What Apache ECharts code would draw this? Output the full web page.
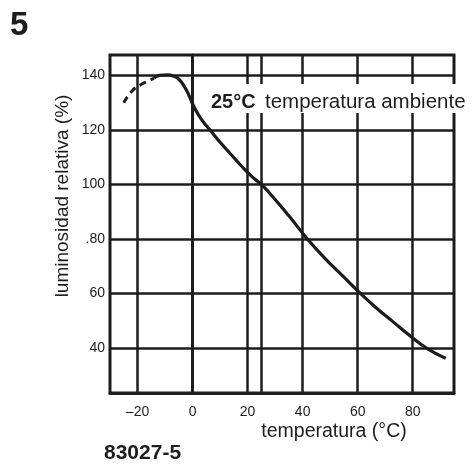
<!DOCTYPE html>
<html>
<head>
<meta charset="utf-8">
<script src="https://cdn.jsdelivr.net/npm/echarts@6/dist/echarts.min.js"></script>
<style>
html,body{margin:0;padding:0;background:#fff;}
#c{width:476px;height:473px;}
</style>
</head>
<body>
<div id="c"></div>
<script>
// ---- data ----
const xTickValues = [-20, 0, 20, 40, 60, 80];
const xTickLabels = ['–20', '0', '20', '40', '60', '80'];
const xGridValues = [-20, 0, 20, 25, 40, 60, 80];
const yTickValues = [40, 60, 80, 100, 120, 140];
const yTickLabels = ['40', '60', '.80', '100', '120', '140'];
const dashedTemp = [-25, -22, -19, -16, -14];
const dashedLum  = [130, 134.3, 136.5, 138, 139];
const solidTemp = [-14, -12, -9, -7, -5, -3, -1, 0, 2, 4, 6.5, 10, 14, 18, 22, 25, 30, 35, 41.5, 48, 55, 61, 67, 73, 79, 85, 92];
const solidLum  = [139, 140, 140.2, 139.8, 138.6, 136, 132, 129.5, 125.8, 122.8, 119.8, 115.5, 111, 106.5, 102.5, 100, 94.5, 88.5, 80.3, 73, 66, 60, 54.5, 49.5, 44.5, 40, 36.2];
const titleNumber = '5';
const figureCode = '83027-5';
const xName = 'temperatura (°C)';
const yName = 'luminosidad relativa (%)';
const noteBold = '25°C';
const noteText = 'temperatura ambiente';

const INK = '#1c1c1c';
const FONT = '"Liberation Sans", Arial, sans-serif';

const zip = (a, b) => a.map((v, i) => [v, b[i]]);

const gridLines = xGridValues.map(v => ({ xAxis: v }))
  .concat(yTickValues.map(v => ({ yAxis: v })));

const chart = echarts.init(document.getElementById('c'), null, { renderer: 'canvas' });
chart.setOption({
  animation: false,
  backgroundColor: '#fff',
  grid: { left: 110, top: 55, width: 344, height: 338, show: true, borderColor: INK, borderWidth: 3, backgroundColor: 'transparent' },
  xAxis: {
    type: 'value', min: -30, max: 95,
    axisLine: { show: true, lineStyle: { color: INK, width: 3 } },
    axisTick: { show: false },
    splitLine: { show: false },
    axisLabel: {
      customValues: xTickValues,
      formatter: v => xTickLabels[xTickValues.indexOf(v)] ?? '',
      color: INK, fontFamily: FONT, fontSize: 14, margin: 12
    }
  },
  yAxis: {
    type: 'value', min: 23.5, max: 147.5,
    axisLine: { show: true, lineStyle: { color: INK, width: 3 } },
    axisTick: { show: false },
    splitLine: { show: false },
    axisLabel: {
      customValues: yTickValues,
      formatter: v => yTickLabels[yTickValues.indexOf(v)] ?? '',
      color: INK, fontFamily: FONT, fontSize: 14, margin: 5
    }
  },
  series: [
    {
      type: 'line', data: zip(dashedTemp, dashedLum), smooth: true, symbol: 'none',
      lineStyle: { color: INK, width: 3, type: [7, 5] }, z: 3
    },
    {
      type: 'line', data: zip(solidTemp, solidLum), smooth: true, symbol: 'none',
      lineStyle: { color: INK, width: 3.2 }, z: 3,
      markLine: {
        silent: true, symbol: ['none', 'none'], label: { show: false },
        lineStyle: { color: INK, width: 2.5, type: 'solid' },
        emphasis: { disabled: true },
        data: gridLines
      }
    }
  ],
  graphic: [
    { type: 'text', left: 10, top: 9, style: { text: titleNumber, font: 'bold 33px ' + FONT, fill: INK } },
    { type: 'text', x: 63, y: 196, rotation: Math.PI / 2, style: { text: yName, font: '19px ' + FONT, fill: INK, align: 'center', verticalAlign: 'middle' } },
    { type: 'text', x: 334, y: 432, style: { text: xName, font: '19.5px ' + FONT, fill: INK, align: 'center', verticalAlign: 'middle' } },
    { type: 'text', x: 104, y: 453, style: { text: figureCode, font: 'bold 21px ' + FONT, fill: INK, align: 'left', verticalAlign: 'middle' } },
    { type: 'rect', shape: { x: 205, y: 84, width: 271, height: 29 }, style: { fill: '#fff' }, z: 100 },
    { type: 'text', x: 211, y: 102, z: 101, style: { text: noteBold, font: 'bold 20px ' + FONT, fill: INK, align: 'left', verticalAlign: 'middle' } },
    { type: 'text', x: 265, y: 102, z: 101, style: { text: noteText, font: '20.5px ' + FONT, fill: INK, align: 'left', verticalAlign: 'middle' } }
  ]
});
</script>
</body>
</html>
